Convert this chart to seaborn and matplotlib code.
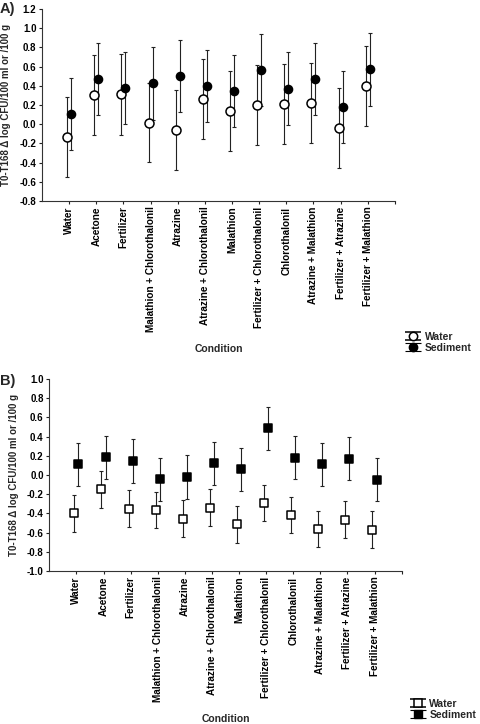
import numpy as np
import pandas as pd
import matplotlib
matplotlib.use("Agg")
import matplotlib.pyplot as plt
from matplotlib.legend_handler import HandlerErrorbar
from matplotlib.container import ErrorbarContainer
import seaborn as sns

sns.set_style("ticks")
plt.rcParams["font.family"] = ["Liberation Sans", "DejaVu Sans"]
plt.rcParams["font.weight"] = "bold"

# ------------------------
# Data
# ------------------------
conditions = ["Water", "Acetone", "Fertilizer", "Malathion + Chlorothalonil",
              "Atrazine", "Atrazine + Chlorothalonil", "Malathion",
              "Fertilizer + Chlorothalonil", "Chlorothalonil",
              "Atrazine + Malathion", "Fertilizer + Atrazine",
              "Fertilizer + Malathion"]

a_water = [-0.13, 0.30, 0.31, 0.015, -0.06, 0.265, 0.135, 0.20, 0.21, 0.225, -0.04, 0.40]
a_water_err = [0.415, 0.417, 0.42, 0.41, 0.418, 0.415, 0.418, 0.418, 0.418, 0.416, 0.418, 0.416]
a_sed = [0.11, 0.47, 0.38, 0.425, 0.50, 0.40, 0.345, 0.565, 0.37, 0.475, 0.18, 0.57]
a_sed_err = [0.375, 0.376, 0.375, 0.377, 0.375, 0.375, 0.375, 0.378, 0.378, 0.375, 0.378, 0.379]

b_water = [-0.40, -0.15, -0.35, -0.365, -0.455, -0.34, -0.515, -0.29, -0.415, -0.56, -0.465, -0.57]
b_water_err = [0.19] * 12
b_sed = [0.11, 0.185, 0.145, -0.045, -0.02, 0.12, 0.06, 0.485, 0.18, 0.11, 0.17, -0.05]
b_sed_err = [0.225] * 12

a_yticks = [-0.8, -0.6, -0.4, -0.2, 0.0, 0.2, 0.4, 0.6, 0.8, 1.0, 1.2]
b_yticks = [-1.0, -0.8, -0.6, -0.4, -0.2, 0.0, 0.2, 0.4, 0.6, 0.8, 1.0]

ylabel = "T0-T168 \u0394 log CFU/100 ml or /100 g"


def make_df(water, water_err, sed, sed_err):
    pos = np.arange(1, len(conditions) + 1)
    d1 = pd.DataFrame({"Condition": conditions, "pos": pos - 0.075,
                       "value": water, "err": water_err, "Medium": "Water"})
    d2 = pd.DataFrame({"Condition": conditions, "pos": pos + 0.075,
                       "value": sed, "err": sed_err, "Medium": "Sediment"})
    return pd.concat([d1, d2], ignore_index=True)


def draw_panel(ax, df, marker, sizes, yticks, letter, letter_pos, xpad):
    for medium, face in [("Water", "white"), ("Sediment", "black")]:
        sub = df[df["Medium"] == medium]
        ax.errorbar(sub["pos"], sub["value"], yerr=sub["err"], fmt="none",
                    ecolor="#222222", elinewidth=0.8, capsize=1.2,
                    capthick=0.8, zorder=2)
        sns.scatterplot(data=sub, x="pos", y="value", marker=marker,
                        s=sizes[medium], color=face, edgecolor="black",
                        linewidth=1.1, zorder=3, ax=ax, legend=False)

    ax.set_xlim(0, len(conditions) + 1)
    ax.set_ylim(yticks[0], yticks[-1])
    ax.set_yticks(yticks)
    ax.set_yticklabels([f"{t:.1f}" for t in yticks], fontsize=7, fontweight="bold")
    ax.set_xticks(np.arange(1, len(conditions) + 2))
    ax.set_xticklabels(conditions + [""], rotation=90, fontsize=7.2, fontweight="bold")
    ax.tick_params(length=2, width=0.8, pad=2, colors="#222222")
    for lab in ax.get_xticklabels() + ax.get_yticklabels():
        lab.set_color("black")
    ax.set_xlabel("Condition", fontsize=7.5, fontweight="bold", labelpad=xpad)
    ax.set_ylabel(ylabel, fontsize=7, fontweight="bold", labelpad=6)
    sns.despine(ax=ax)
    for sp in ["left", "bottom"]:
        ax.spines[sp].set_linewidth(0.8)
        ax.spines[sp].set_color("#333333")
    ax.text(letter_pos[0], letter_pos[1], letter, transform=ax.transAxes,
            fontsize=10.5, fontweight="bold", va="center", ha="left")


fig = plt.figure(figsize=(4.81, 7.24), dpi=100)
ax_a = fig.add_axes([0.0873, 0.7224, 0.7337, 0.2652])
ax_b = fig.add_axes([0.1025, 0.2113, 0.7325, 0.2652])

df_a = make_df(a_water, a_water_err, a_sed, a_sed_err)
df_b = make_df(b_water, b_water_err, b_sed, b_sed_err)

draw_panel(ax_a, df_a, "o", {"Water": 42, "Sediment": 34}, a_yticks, "A)", (-0.12, 1.0), 8)
draw_panel(ax_b, df_b, "s", {"Water": 40, "Sediment": 36}, b_yticks, "B)", (-0.14, 0.99), 8)


# legends with errorbar-style handles
def add_legend(ax, marker, anchor):
    hw = ax.errorbar([np.nan], [np.nan], yerr=[np.nan], fmt=marker, mfc="white",
                     mec="black", mew=1.1, ms=6, ecolor="black", elinewidth=0.8,
                     capsize=5.5, capthick=0.8)
    hs = ax.errorbar([np.nan], [np.nan], yerr=[np.nan], fmt=marker, mfc="black",
                     mec="black", ms=6, ecolor="black", elinewidth=0.8,
                     capsize=5.5, capthick=0.8)
    fig.legend([hw, hs], ["Water", "Sediment"], loc="upper left",
               bbox_to_anchor=anchor, frameon=False, handlelength=1.0,
               handletextpad=0.6, labelspacing=0.08, borderpad=0,
               borderaxespad=0,
               handler_map={ErrorbarContainer: HandlerErrorbar(yerr_size=0.38)},
               prop={"size": 7.5, "weight": "bold"})

add_legend(ax_a, "o", (0.848, 0.5414))
add_legend(ax_b, "s", (0.858, 0.0345))

fig.savefig("out.png", dpi=100)
